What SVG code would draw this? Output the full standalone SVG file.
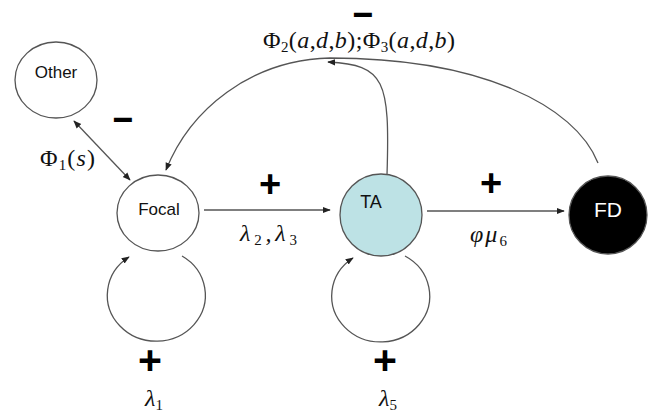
<svg xmlns="http://www.w3.org/2000/svg" width="650" height="414" viewBox="0 0 650 414">
<style>
.node{stroke:#555;stroke-width:1.3}
.lbl{font-family:"Liberation Sans",Arial,sans-serif;text-anchor:middle;fill:#111}
.con{fill:none;stroke:#555;stroke-width:1.3}
.math{font-family:"Liberation Serif","Times New Roman",serif;fill:#111;font-size:24px}
.it{font-style:italic}
.sub{font-size:15px;font-style:normal}
.sign{font-family:"Liberation Sans",Arial,sans-serif;font-weight:bold;text-anchor:middle;fill:#000}
.dash{stroke:#000;stroke-width:1.8}
</style>
<defs>
<marker id="arr" viewBox="0 0 10 10" refX="9" refY="5" markerWidth="8" markerHeight="8" orient="auto-start-reverse" markerUnits="userSpaceOnUse">
<path d="M0,1 L10,5 L0,9 z" fill="#222"/>
</marker>
</defs>
<rect width="650" height="414" fill="#fff"/>
<g id="connectors">
<line class="con" x1="74" y1="121" x2="130" y2="180" marker-start="url(#arr)" marker-end="url(#arr)"/>
<line class="con" x1="204" y1="210" x2="330" y2="210" marker-end="url(#arr)"/>
<line class="con" x1="427" y1="211" x2="564" y2="211" marker-end="url(#arr)"/>
<path class="con" d="M598 163 C575 105 480 58 330 58 C250 60 190 110 166 170" marker-end="url(#arr)"/>
<path class="con" d="M387 175 C390 80 385 65 328 62" marker-end="url(#arr)"/>
<path class="con" d="M182 256 A49 46 0 1 1 129 257" marker-end="url(#arr)"/>
<path class="con" d="M405 256 A49 46 0 1 1 353 258" marker-end="url(#arr)"/>
</g>
<g id="other">
<ellipse class="node" cx="56" cy="80" rx="41" ry="38" fill="#fff"/>
<text class="lbl" x="56" y="78" font-size="17">Other</text>
</g>
<g id="focal">
<ellipse class="node" cx="158" cy="213" rx="41" ry="38" fill="#fff"/>
<text class="lbl" x="159" y="215" font-size="17">Focal</text>
</g>
<g id="ta">
<circle class="node" cx="381" cy="215" r="41" fill="#bde2e5"/>
<text class="lbl" x="371" y="208" font-size="18">TA</text>
</g>
<g id="fd">
<circle class="node" cx="608" cy="215" r="39" fill="#000" stroke="#000"/>
<text class="lbl" x="608" y="217" font-size="21" style="fill:#fff">FD</text>
</g>
<g id="labels">
<text class="sign dash" x="363" y="20" font-size="20" transform="translate(-580.8 0) scale(2.6 1)">-</text>
<text class="sign dash" x="123" y="125" font-size="20" transform="translate(-196.8 0) scale(2.6 1)">-</text>
<text class="sign" x="270" y="197" font-size="38">+</text>
<text class="sign" x="491" y="196" font-size="38">+</text>
<text class="sign" x="150" y="374" font-size="41">+</text>
<text class="sign" x="385" y="374" font-size="41">+</text>
<text class="math" x="263" y="48" textLength="192" lengthAdjust="spacing">Φ<tspan class="sub" dy="4">2</tspan><tspan dy="-4">(</tspan><tspan class="it">a</tspan>,<tspan class="it">d</tspan>,<tspan class="it">b</tspan>);Φ<tspan class="sub" dy="4">3</tspan><tspan dy="-4">(</tspan><tspan class="it">a</tspan>,<tspan class="it">d</tspan>,<tspan class="it">b</tspan>)</text>
<text class="math" x="40" y="166" textLength="55" lengthAdjust="spacing">Φ<tspan class="sub" dy="4">1</tspan><tspan dy="-4">(</tspan><tspan class="it">s</tspan>)</text>
<text class="math it" x="240" y="241" textLength="57" lengthAdjust="spacing">λ<tspan class="sub" dy="4">2</tspan><tspan dy="-4">,λ</tspan><tspan class="sub" dy="4">3</tspan></text>
<text class="math it" x="470" y="242" textLength="37" lengthAdjust="spacing">φμ<tspan class="sub" dy="4">6</tspan></text>
<text class="math it" x="145" y="406">λ<tspan class="sub" dy="4">1</tspan></text>
<text class="math it" x="379" y="406">λ<tspan class="sub" dy="4">5</tspan></text>
</g>
</svg>
